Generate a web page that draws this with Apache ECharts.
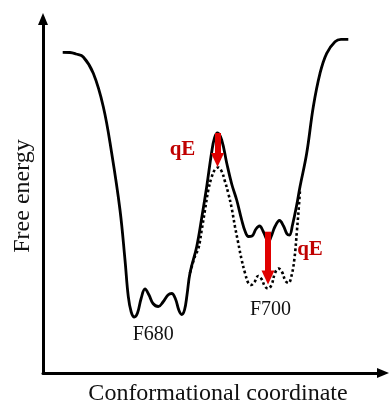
<!DOCTYPE html>
<html>
<head>
<meta charset="utf-8">
<script src="https://cdn.jsdelivr.net/npm/echarts@6/dist/echarts.min.js"></script>
<style>
  html, body { margin: 0; padding: 0; background: #fff; }
  #chart { width: 389px; height: 404px; }
</style>
</head>
<body>
<div id="chart"></div>
<script>
// free energy profile, [coordinate, energy]
const solidCurve = [
  [19.7, 320.7], [27, 320.5], [33, 319], [40.3, 316], [50.3, 299.7], [60.3, 266.3],
  [68.7, 219.7], [77, 163], [82, 113], [85.3, 76.3], [88.2, 61], [91.3, 56],
  [94.5, 60], [98, 74], [102, 84], [106, 78], [110, 69.5], [115.3, 66.5],
  [120, 71], [125, 78], [128.7, 79.5], [132.5, 74], [135.8, 63], [138.7, 58.5],
  [141.5, 63], [144, 78], [147, 100], [153.7, 126.3], [158.7, 155], [163.7, 186.3],
  [168.7, 221], [171.5, 235], [174.5, 240], [178.7, 233], [183.7, 210], [188.7, 189],
  [193.7, 173], [198.7, 153], [202, 142], [205.5, 136.5], [209, 137], [213, 144],
  [216.5, 147], [220, 142], [223.5, 134], [225.5, 131.5], [228, 136], [232, 146.5],
  [236.5, 152.5], [240.5, 147], [244, 139], [246.5, 138], [249.5, 148], [253.7, 168],
  [257, 186.3], [263.7, 219.7], [270.3, 266.3], [277, 299.7], [283.7, 319.7],
  [292, 331.3], [298, 333.7], [305.3, 333.7]
];

// profile under the field (qE)
const dottedCurve = [
  [147, 100], [152, 117], [155.3, 124], [158.7, 143], [162, 163], [165.3, 183],
  [168.7, 196], [172, 203.5], [175.3, 205.5], [178.7, 201.5], [182, 191.5],
  [185.3, 179.7], [188.7, 164.7], [192, 146.3], [195.3, 129.7], [198.7, 113],
  [202, 100], [205.3, 90], [208, 88], [211.5, 91], [215.3, 97], [218.5, 94],
  [222, 86.5], [225, 84.5], [228.5, 88], [232, 100], [235.5, 104.5], [239, 101],
  [242.5, 92], [245.5, 90], [248.7, 98], [251.5, 115], [254, 143], [256, 168], [257, 183]
];

// arrows: [x, yFrom, yTo]
const shiftArrows = [
  [174.5, 240, 213],
  [225, 141.3, 95.5]
];

const labelNames = ['qE', 'qE', 'F680', 'F700'];
const labelPos = [[139.5, 223], [267, 123], [110.3, 38], [227.5, 63]];
const labelColors = ['#c00000', '#c00000', '#111', '#111'];
const labelBold = [true, true, false, false];

const chart = echarts.init(document.getElementById('chart'));

const font = 'Liberation Serif';

const option = {
  animation: false,
  grid: { left: 43, right: 6, top: 19, bottom: 31, outerBoundsMode: 'none' },
  xAxis: {
    type: 'value',
    min: 0,
    max: 340,
    name: 'Conformational coordinate',
    nameLocation: 'middle',
    nameGap: 9,
    nameTextStyle: { fontFamily: font, fontSize: 24, color: '#111', padding: [0, 0, 0, 10] },
    axisLine: {
      show: true,
      symbol: ['none', 'triangle'],
      symbolSize: [10, 12],
      lineStyle: { color: '#000', width: 3 }
    },
    axisTick: { show: false },
    axisLabel: { show: false },
    splitLine: { show: false }
  },
  yAxis: {
    type: 'value',
    min: 0,
    max: 354,
    name: 'Free energy',
    nameLocation: 'middle',
    nameGap: 8,
    nameTextStyle: { fontFamily: font, fontSize: 24, color: '#111' },
    axisLine: {
      show: true,
      symbol: ['none', 'triangle'],
      symbolSize: [10, 12],
      lineStyle: { color: '#000', width: 3 }
    },
    axisTick: { show: false },
    axisLabel: { show: false },
    splitLine: { show: false }
  },
  series: [
    {
      name: 'without field',
      type: 'line',
      data: dottedCurve,
      smooth: 0.4,
      showSymbol: false,
      lineStyle: { color: '#000', width: 2.6, type: [2.6, 2.6] },
      z: 2
    },
    {
      name: 'free energy',
      type: 'line',
      data: solidCurve,
      smooth: 0.4,
      showSymbol: false,
      lineStyle: { color: '#000', width: 2.8 },
      z: 3,
      markLine: {
        silent: true,
        symbol: ['none', 'triangle'],
        symbolSize: [13, 14],
        label: { show: false },
        lineStyle: { color: '#e00000', width: 6, type: 'solid' },
        data: shiftArrows.map(a => [{ coord: [a[0], a[1]] }, { coord: [a[0], a[2]] }])
      },
      markPoint: {
        silent: true,
        symbol: 'circle',
        symbolSize: 0,
        data: labelNames.map((n, i) => ({
          name: n,
          coord: labelPos[i],
          label: {
            show: true,
            position: 'inside',
            formatter: '{b}',
            fontFamily: font,
            fontSize: labelBold[i] ? 21 : 20,
            fontWeight: labelBold[i] ? 'bold' : 'normal',
            color: labelColors[i]
          }
        }))
      }
    }
  ]
};

chart.setOption(option);
</script>
</body>
</html>
